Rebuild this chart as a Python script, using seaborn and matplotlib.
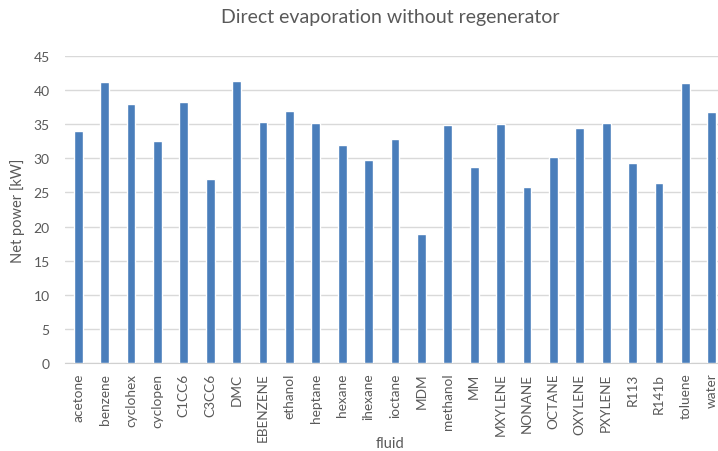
import matplotlib
matplotlib.use("Agg")
import matplotlib.pyplot as plt
import pandas as pd
import seaborn as sns

fluids = ["acetone", "benzene", "cyclohex", "cyclopen", "C1CC6", "C3CC6", "DMC",
          "EBENZENE", "ethanol", "heptane", "hexane", "ihexane", "ioctane", "MDM",
          "methanol", "MM", "MXYLENE", "NONANE", "OCTANE", "OXYLENE", "PXYLENE",
          "R113", "R141b", "toluene", "water"]
net_power = [34.0, 41.2, 38.0, 32.5, 38.2, 26.9, 41.3,
             35.3, 36.9, 35.2, 31.9, 29.8, 32.8, 18.9,
             34.9, 28.8, 35.1, 25.8, 30.2, 34.4, 35.2,
             29.3, 26.4, 41.1, 36.8]
y_ticks = list(range(0, 50, 5))

df = pd.DataFrame({"fluid": fluids, "power": net_power})

sns.set_style("white")
plt.rcParams["font.family"] = ["Lato", "DejaVu Sans"]

txt = "#595959"
fig = plt.figure(figsize=(7.18, 4.52), dpi=100)
ax = fig.add_axes([65 / 718, 88 / 452, 660 / 718, 307 / 452])

sns.barplot(data=df, x="fluid", y="power", color="#4a7ebb", saturation=1,
            width=0.33, ax=ax, zorder=3)

ax.set_ylim(0, 45)
ax.set_xlim(-0.5, len(fluids) - 0.5)
ax.set_yticks(y_ticks)
ax.yaxis.grid(True, color="#d9d9d9", linewidth=1, zorder=0)
ax.xaxis.grid(False)
for s in ["top", "right", "left"]:
    ax.spines[s].set_visible(False)
ax.spines["bottom"].set_color("#d0d0d0")
ax.tick_params(axis="both", length=0, colors=txt, labelsize=10)
ax.tick_params(axis="x", labelrotation=90, labelsize=9.8, pad=7)
ax.tick_params(axis="y", pad=11)

ax.set_xlabel("")
fig.text(390 / 718, 1 / 452, "fluid", ha="center", va="bottom",
         color=txt, fontsize=10.5)
ax.set_ylabel("Net power [kW]", color=txt, fontsize=10.5, labelpad=6)
fig.text(390 / 718, 1 - 18 / 452, "Direct evaporation without regenerator",
         ha="center", va="center", fontsize=14, color=txt)

fig.savefig("out.png", dpi=100)
